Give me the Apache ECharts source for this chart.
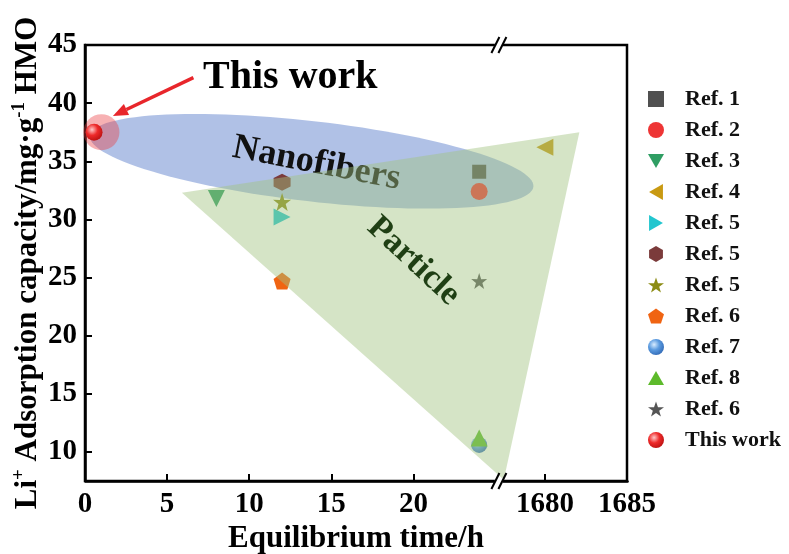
<!DOCTYPE html>
<html><head><meta charset="utf-8">
<script src="https://cdn.jsdelivr.net/npm/echarts@6/dist/echarts.min.js"></script>
<style>html,body{margin:0;padding:0;background:#fff}#c{width:789px;height:554px}</style>
</head><body><div id="c"></div>
<script>
// ---- data ----
const seriesNames = ['Ref. 1','Ref. 2','Ref. 3','Ref. 4','Ref. 5','Ref. 5\u200b','Ref. 5\u200b\u200b','Ref. 6','Ref. 7','Ref. 8','Ref. 6\u200b','This work'];
const timeValues = [24, 24, 8, 1680, 12, 12, 12, 12, 24, 24, 24, 0.55];
const capacityValues = [34.1, 32.4, 31.8, 36.2, 30.2, 33.2, 31.5, 24.7, 10.6, 11.2, 24.7, 37.5];
const xTickValues = [0, 5, 10, 15, 20, 1680, 1685];
const yTickValues = [10, 15, 20, 25, 30, 35, 40, 45];
const axisBreak = [25, 1677.4];
const haloPoint = [1.0, 37.5];
const particleTriangle = [[5.9, 32.3], [1682.1, 37.5], [1677.5, 7.6]];
const nanofiberEllipseEnds = [[0.3, 37.2], [1679.3, 32.8]];
const nanofiberHalfWidth = [3.45];
const arrowEnds = [[6.6, 42.2], [1.7, 38.9]];
const thisWorkLabelPoint = [12.5, 42.2];
const nanoLabelPoint = [14.1, 34.8];
const particleLabelPoint = [20.0, 26.4];

// ---- styles ----
const FONT = '"Liberation Serif", "Times New Roman", serif';
const star = 'path://M50,0 L61.8,35.1 L97.6,34.5 L69,56 L79.4,90.5 L50,69.5 L20.6,90.5 L31,56 L2.4,34.5 L38.2,35.1 Z';
const pentagon = 'path://M50,0 L97.6,34.5 L79.4,90.5 L20.6,90.5 L2.4,34.5 Z';
const hexagon = 'path://M50,0 L93.3,25 L93.3,75 L50,100 L6.7,75 L6.7,25 Z';
const triDown = 'path://M0,0 L100,0 L50,87 Z';
const triLeft = 'path://M87,0 L87,100 L0,50 Z';
const triRight = 'path://M0,0 L0,100 L87,50 Z';
const triUp = 'path://M50,0 L100,87 L0,87 Z';
function sphere(light, mid, dark) {
  return {type:'radial', x:0.38, y:0.35, r:0.75, colorStops:[{offset:0,color:light},{offset:0.45,color:mid},{offset:1,color:dark}]};
}
const markerStyles = [
  {symbol:'rect', color:'#505050', size:14},
  {symbol:'circle', color:'#ee3535', size:17},
  {symbol:triDown, color:'#2f9e63', size:17},
  {symbol:triLeft, color:'#c99a12', size:17},
  {symbol:triRight, color:'#22c6cf', size:17},
  {symbol:hexagon, color:'#7b3b3b', size:17},
  {symbol:star, color:'#8c8c14', size:18},
  {symbol:pentagon, color:'#f06412', size:17},
  {symbol:'circle', color:sphere('#d8ecff','#5b9be0','#2c63b0'), size:16},
  {symbol:triUp, color:'#5dba2b', size:17},
  {symbol:star, color:'#555555', size:16},
  {symbol:'circle', color:sphere('#ffc8c8','#ee2a2a','#b30d0d'), size:17}
];

const chart = echarts.init(document.getElementById('c'), null, {renderer:'canvas'});

const scatterSeries = seriesNames.map((name, i) => ({
  name: name, type:'scatter', z: (i === 11 ? 8 : 2),
  symbol: markerStyles[i].symbol, symbolSize: markerStyles[i].size,
  itemStyle:{color: markerStyles[i].color, opacity:1},
  data:[[timeValues[i], capacityValues[i]]]
}));

function ellipseItem(params, api) {
  const p1 = api.coord(nanofiberEllipseEnds[0]), p2 = api.coord(nanofiberEllipseEnds[1]);
  const cx = (p1[0]+p2[0])/2, cy = (p1[1]+p2[1])/2;
  const a = Math.hypot(p2[0]-p1[0], p2[1]-p1[1]) / 2;
  const ang = Math.atan2(p2[1]-p1[1], p2[0]-p1[0]);
  const b = Math.abs(api.coord([0, 20])[1] - api.coord([0, 20 + nanofiberHalfWidth[0]])[1]);
  const pts = [];
  for (let k = 0; k < 120; k++) {
    const t = k / 120 * Math.PI * 2;
    const ex = a * Math.cos(t), ey = b * Math.sin(t);
    pts.push([cx + ex*Math.cos(ang) - ey*Math.sin(ang), cy + ex*Math.sin(ang) + ey*Math.cos(ang)]);
  }
  return {type:'polygon', shape:{points:pts}, style:{fill:'rgba(150,172,222,0.75)'}};
}
function triangleItem(params, api) {
  return {type:'polygon', shape:{points: particleTriangle.map(p => api.coord(p))}, style:{fill:'rgba(162,195,128,0.45)'}};
}
function textItem(point, text, size, rotDeg, color) {
  return function(params, api) {
    const p = api.coord(point);
    return {type:'text', x:p[0], y:p[1], rotation: rotDeg*Math.PI/180,
      style:{text:text, fontSize:size, fontWeight:'bold', fontFamily:FONT, fill:color, align:'center', verticalAlign:'middle'}};
  };
}
function arrowItem(params, api) {
  const t = api.coord(arrowEnds[0]), h = api.coord(arrowEnds[1]);
  const ang = Math.atan2(h[1]-t[1], h[0]-t[0]);
  const L = 15, W = 6;
  const bx = h[0] - L*Math.cos(ang), by = h[1] - L*Math.sin(ang);
  const nx = -Math.sin(ang), ny = Math.cos(ang);
  return {type:'group', children:[
    {type:'line', shape:{x1:t[0], y1:t[1], x2:bx, y2:by}, style:{stroke:'#e8262b', lineWidth:3.5}},
    {type:'polygon', shape:{points:[[h[0],h[1]],[bx+nx*W,by+ny*W],[bx-nx*W,by-ny*W]]}, style:{fill:'#e8262b'}}
  ]};
}
function breakMarkItem(params, api) {
  const yVals = [7.5, 45];
  const children = [];
  yVals.forEach(yv => {
    const a = api.coord([axisBreak[0], yv]), b = api.coord([axisBreak[1], yv]);
    const x = (a[0] + b[0]) / 2, y = a[1];
    children.push({type:'rect', shape:{x:x-4, y:y-3, width:8, height:6}, style:{fill:'#fff'}});
    [-3.5, 3.5].forEach(dx => {
      children.push({type:'line', shape:{x1:x+dx-4, y1:y+8, x2:x+dx+4, y2:y-8}, style:{stroke:'#000', lineWidth:2}});
    });
  });
  return {type:'group', children:children};
}

const option = {
  backgroundColor:'#fff',
  animation:false,
  grid:{left:85, right:162, top:45, bottom:73, outerBoundsMode:'none', containLabel:false,
        show:true, borderColor:'#000', borderWidth:2.5, backgroundColor:'transparent'},
  legend:{
    orient:'vertical', left:643, top:83, itemWidth:16, itemHeight:16, itemGap:9,
    data: seriesNames, selectedMode:false,
    textStyle:{fontSize:22, fontWeight:'bold', fontFamily:FONT, color:'#111', padding:[0,0,0,16]}
  },
  xAxis:{
    type:'value', min:0, max:1685,
    breaks:[{start:axisBreak[0], end:axisBreak[1], gap:0.4}],
    breakArea:{show:false},
    axisLine:{show:true, onZero:false, lineStyle:{color:'#000', width:2.5}},
    axisTick:{show:true, inside:true, length:7, customValues:xTickValues, lineStyle:{color:'#000', width:2}},
    axisLabel:{customValues:xTickValues, formatter: v => String(v), fontSize:29, fontWeight:'bold', fontFamily:FONT, color:'#000', margin:9},
    splitLine:{show:false},
    name:'Equilibrium time/h', nameLocation:'middle', nameGap:42,
    nameTextStyle:{fontSize:31, fontWeight:'bold', fontFamily:FONT, color:'#000'}
  },
  yAxis:{
    type:'value', min:7.5, max:45,
    axisLine:{show:true, onZero:false, lineStyle:{color:'#000', width:2.5}},
    axisTick:{show:true, inside:true, length:7, customValues:yTickValues, lineStyle:{color:'#000', width:2}},
    axisLabel:{customValues:yTickValues, formatter: v => String(v), fontSize:29, fontWeight:'bold', fontFamily:FONT, color:'#000', margin:8},
    splitLine:{show:false},
    name:'Li{sup|+} Adsorption capacity/mg·g{sup|-1} HMO', nameLocation:'middle', nameGap:40, nameMoveOverlap:false,
    nameTextStyle:{fontSize:31, fontWeight:'bold', fontFamily:FONT, color:'#000', lineHeight:35,
      rich:{sup:{fontSize:19, fontWeight:'bold', fontFamily:FONT, color:'#000', verticalAlign:'top', lineHeight:35}}}
  },
  series: [
    {type:'custom', name:'nanofiberRegion', z:1, silent:true, data:[[0,20]], renderItem: ellipseItem},
    ...scatterSeries,
    {type:'custom', name:'nanoLabel', z:3, silent:true, data:[[0,20]], renderItem: textItem(nanoLabelPoint, 'Nanofibers', 36, -11, '#111')},
    {type:'custom', name:'particleRegion', z:4, silent:true, data:[[0,20]], renderItem: triangleItem},
    {type:'custom', name:'particleLabel', z:5, silent:true, data:[[0,20]], renderItem: textItem(particleLabelPoint, 'Particle', 34, -43, '#1f3f14')},
    {type:'scatter', name:'halo', z:7, silent:true, symbol:'circle', symbolSize:36, itemStyle:{color:'rgba(236,60,66,0.5)'}, data:[haloPoint]},
    {type:'custom', name:'arrow', z:9, silent:true, data:[[0,20]], renderItem: arrowItem},
    {type:'custom', name:'thisWorkLabel', z:9, silent:true, data:[[0,20]], renderItem: textItem(thisWorkLabelPoint, 'This work', 40, 0, '#000')},
    {type:'custom', name:'breakMarks', z:10, silent:true, data:[[0,20]], renderItem: breakMarkItem}
  ]
};
chart.setOption(option);
</script></body></html>
